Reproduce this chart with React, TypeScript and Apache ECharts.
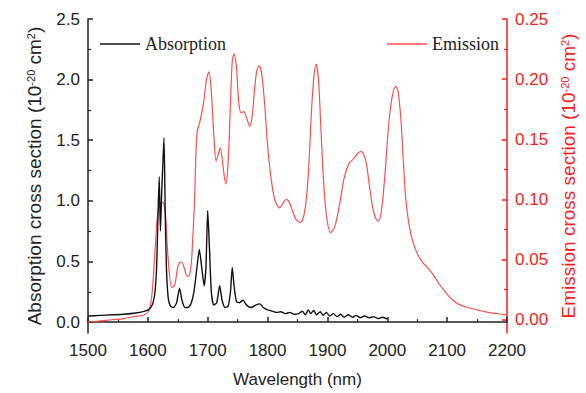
import React, { useEffect, useRef } from "react";
import * as echarts from "echarts";

const xTicks = [1500, 1600, 1700, 1800, 1900, 2000, 2100, 2200];
const leftTicks = [0, 0.5, 1.0, 1.5, 2.0, 2.5];
const leftMinor = [0.25, 0.75, 1.25, 1.75, 2.25];
const rightTicks = [0, 0.05, 0.1, 0.15, 0.2, 0.25];
const rightMinor = [0.025, 0.075, 0.125, 0.175, 0.225];

const absWl = [1500, 1520, 1540, 1560, 1580, 1595, 1603, 1608, 1612, 1615, 1617, 1619, 1621, 1623, 1625, 1627, 1629, 1631, 1634, 1638, 1643, 1648, 1653, 1657, 1662, 1667, 1672, 1677, 1682, 1686, 1690, 1694, 1697, 1700, 1703, 1706, 1710, 1715, 1720, 1724, 1729, 1734, 1738, 1741, 1744, 1748, 1753, 1759, 1765, 1772, 1780, 1787, 1793, 1800, 1808, 1815, 1822, 1830, 1837, 1845, 1852, 1858, 1863, 1868, 1872, 1877, 1882, 1888, 1893, 1898, 1904, 1910, 1916, 1922, 1928, 1935, 1942, 1948, 1955, 1962, 1970, 1977, 1985, 1992, 2000];
const absVal = [0.05, 0.055, 0.06, 0.065, 0.075, 0.09, 0.11, 0.15, 0.25, 0.5, 0.9, 1.2, 0.75, 1.05, 1.3, 1.52, 0.9, 0.45, 0.2, 0.13, 0.12, 0.16, 0.28, 0.18, 0.12, 0.12, 0.15, 0.25, 0.45, 0.6, 0.45, 0.3, 0.45, 0.92, 0.6, 0.25, 0.14, 0.16, 0.3, 0.18, 0.12, 0.13, 0.25, 0.45, 0.3, 0.17, 0.16, 0.18, 0.14, 0.12, 0.14, 0.15, 0.12, 0.1, 0.09, 0.08, 0.085, 0.07, 0.08, 0.065, 0.07, 0.09, 0.06, 0.1, 0.07, 0.095, 0.06, 0.085, 0.055, 0.08, 0.05, 0.07, 0.045, 0.065, 0.04, 0.06, 0.04, 0.055, 0.035, 0.05, 0.035, 0.045, 0.03, 0.04, 0.025];

const emWl = [1500, 1520, 1540, 1560, 1580, 1594, 1602, 1607, 1612, 1616, 1620, 1624, 1627, 1630, 1634, 1640, 1645, 1650, 1655, 1659, 1664, 1668, 1672, 1675, 1678, 1682, 1687, 1693, 1698, 1702, 1706, 1710, 1714, 1718, 1721, 1725, 1730, 1734, 1738, 1741, 1744, 1748, 1752, 1756, 1760, 1765, 1770, 1774, 1778, 1782, 1786, 1790, 1795, 1800, 1806, 1812, 1820, 1826, 1831, 1836, 1842, 1848, 1855, 1862, 1868, 1873, 1877, 1881, 1885, 1889, 1893, 1898, 1905, 1912, 1920, 1928, 1936, 1944, 1950, 1956, 1960, 1965, 1970, 1975, 1980, 1985, 1990, 1996, 2002, 2008, 2014, 2018, 2023, 2027, 2031, 2036, 2042, 2051, 2060, 2068, 2076, 2085, 2097, 2108, 2119, 2135, 2152, 2170, 2185, 2200];
const emVal = [-0.002, -0.001, 0.0, 0.001, 0.003, 0.004, 0.008, 0.022, 0.058, 0.086, 0.095, 0.0975, 0.096, 0.083, 0.05, 0.027, 0.029, 0.044, 0.048, 0.046, 0.0375, 0.036, 0.044, 0.067, 0.1, 0.155, 0.165, 0.18, 0.2, 0.206, 0.19, 0.155, 0.132, 0.138, 0.143, 0.13, 0.113, 0.13, 0.18, 0.215, 0.221, 0.21, 0.18, 0.172, 0.173, 0.168, 0.161, 0.168, 0.19, 0.207, 0.211, 0.205, 0.18, 0.145, 0.117, 0.1, 0.093, 0.097, 0.1, 0.098, 0.09, 0.083, 0.081, 0.09, 0.12, 0.17, 0.2, 0.2125, 0.2, 0.16, 0.12, 0.088, 0.0725, 0.077, 0.095, 0.118, 0.13, 0.134, 0.138, 0.14, 0.138, 0.13, 0.112, 0.095, 0.085, 0.082, 0.09, 0.12, 0.16, 0.185, 0.194, 0.19, 0.165, 0.13, 0.1, 0.08, 0.066, 0.054, 0.047, 0.043, 0.038, 0.031, 0.023, 0.017, 0.013, 0.01, 0.008, 0.006, 0.005, 0.004];

const SANS = "Liberation Sans, Arial, sans-serif";
const SERIF = "Liberation Serif, Times New Roman, serif";
const BLACK = "#222222";
const RED = "#ff1a1a";

export default function App() {
  const ref = useRef<HTMLDivElement>(null);
  useEffect(() => {
    if (!ref.current) return;
    const chart = echarts.init(ref.current, undefined, { renderer: "svg" });
    const absData = absWl.map((w, i) => [w, absVal[i]]);
    const emData = emWl.map((w, i) => [w, emVal[i]]);
    const titleRich = (color: string) => ({
      a: { fontSize: 19, fontFamily: SANS, color },
      s: { fontSize: 11, fontFamily: SANS, color, verticalAlign: "top" },
    });
    chart.setOption({
      animation: false,
      backgroundColor: "#ffffff",
      grid: { left: 88, right: 74, top: 19, bottom: 60 },
      legend: [
        {
          data: ["Absorption"],
          left: 95,
          top: 30,
          icon: "rect",
          itemWidth: 40,
          itemHeight: 1.5,
          textStyle: { fontFamily: SERIF, fontSize: 18, color: BLACK },
        },
        {
          data: ["Emission"],
          left: 382,
          top: 30,
          icon: "rect",
          itemWidth: 40,
          itemHeight: 1.5,
          textStyle: { fontFamily: SERIF, fontSize: 18, color: BLACK },
        },
      ],
      xAxis: {
        type: "value",
        min: 1500,
        max: 2200,
        interval: 100,
        name: "Wavelength (nm)",
        nameLocation: "middle",
        nameGap: 38,
        nameTextStyle: { fontFamily: SANS, fontSize: 17, color: BLACK },
        axisLine: { lineStyle: { color: BLACK, width: 1.5 } },
        axisTick: { inside: true, length: 5, lineStyle: { color: BLACK, width: 1.5 } },
        minorTick: { show: true, splitNumber: 2, length: 3, lineStyle: { color: BLACK, width: 1.2 } },
        axisLabel: {
          fontFamily: SANS,
          fontSize: 17,
          color: BLACK,
          margin: 9,
          customValues: xTicks,
          formatter: (v: number) => String(v),
        },
        splitLine: { show: false },
      },
      yAxis: [
        {
          type: "value",
          position: "left",
          min: -0.09,
          max: 2.5,
          name: "{a|Absorption cross section (10}{s|-20}{a| cm}{s|2}{a|)}",
          nameLocation: "middle",
          nameRotate: 90,
          nameGap: 44,
          nameTextStyle: { rich: titleRich(BLACK) },
          axisLine: { show: true, lineStyle: { color: BLACK, width: 1.5 } },
          axisTick: { show: true, inside: true, length: 5, customValues: leftTicks, lineStyle: { color: BLACK, width: 1.5 } },
          axisLabel: {
            fontFamily: SANS,
            fontSize: 17,
            color: BLACK,
            margin: 8,
            customValues: leftTicks,
            formatter: (v: number) => v.toFixed(1),
          },
          splitLine: { show: false },
        },
        {
          type: "value",
          position: "right",
          min: -0.011,
          max: 0.25,
          name: "{a|Emission cross section (10}{s|-20}{a| cm}{s|2}{a|)}",
          nameLocation: "middle",
          nameRotate: 90,
          nameGap: 52,
          nameTextStyle: { rich: titleRich(RED) },
          axisLine: { show: true, lineStyle: { color: RED, width: 1.5 } },
          axisTick: { show: true, inside: true, length: 5, customValues: rightTicks, lineStyle: { color: RED, width: 1.5 } },
          axisLabel: {
            fontFamily: SANS,
            fontSize: 17,
            color: RED,
            margin: 8,
            customValues: rightTicks,
            formatter: (v: number) => v.toFixed(2),
          },
          splitLine: { show: false },
        },
        {
          type: "value",
          position: "left",
          min: -0.09,
          max: 2.5,
          axisLine: { show: false },
          axisTick: { show: true, inside: true, length: 3, customValues: leftMinor, lineStyle: { color: BLACK, width: 1.2 } },
          axisLabel: { show: false, customValues: leftMinor },
          splitLine: { show: false },
        },
        {
          type: "value",
          position: "right",
          min: -0.011,
          max: 0.25,
          axisLine: { show: false },
          axisTick: { show: true, inside: true, length: 3, customValues: rightMinor, lineStyle: { color: RED, width: 1.2 } },
          axisLabel: { show: false, customValues: rightMinor },
          splitLine: { show: false },
        },
      ],
      series: [
        {
          name: "Emission",
          type: "line",
          yAxisIndex: 1,
          data: emData,
          showSymbol: false,
          smooth: 0.3,
          color: "#ff4d4d",
          lineStyle: { color: "#ff4d4d", width: 1.2 },
          z: 2,
        },
        {
          name: "Absorption",
          type: "line",
          yAxisIndex: 0,
          data: absData,
          showSymbol: false,
          smooth: 0.2,
          color: "#111111",
          lineStyle: { color: "#111111", width: 1.4 },
          z: 3,
        },
      ],
    });
    return () => chart.dispose();
  }, []);
  return <div ref={ref} style={{ width: 586, height: 393, position: "absolute", left: 0, top: 0 }} />;
}
